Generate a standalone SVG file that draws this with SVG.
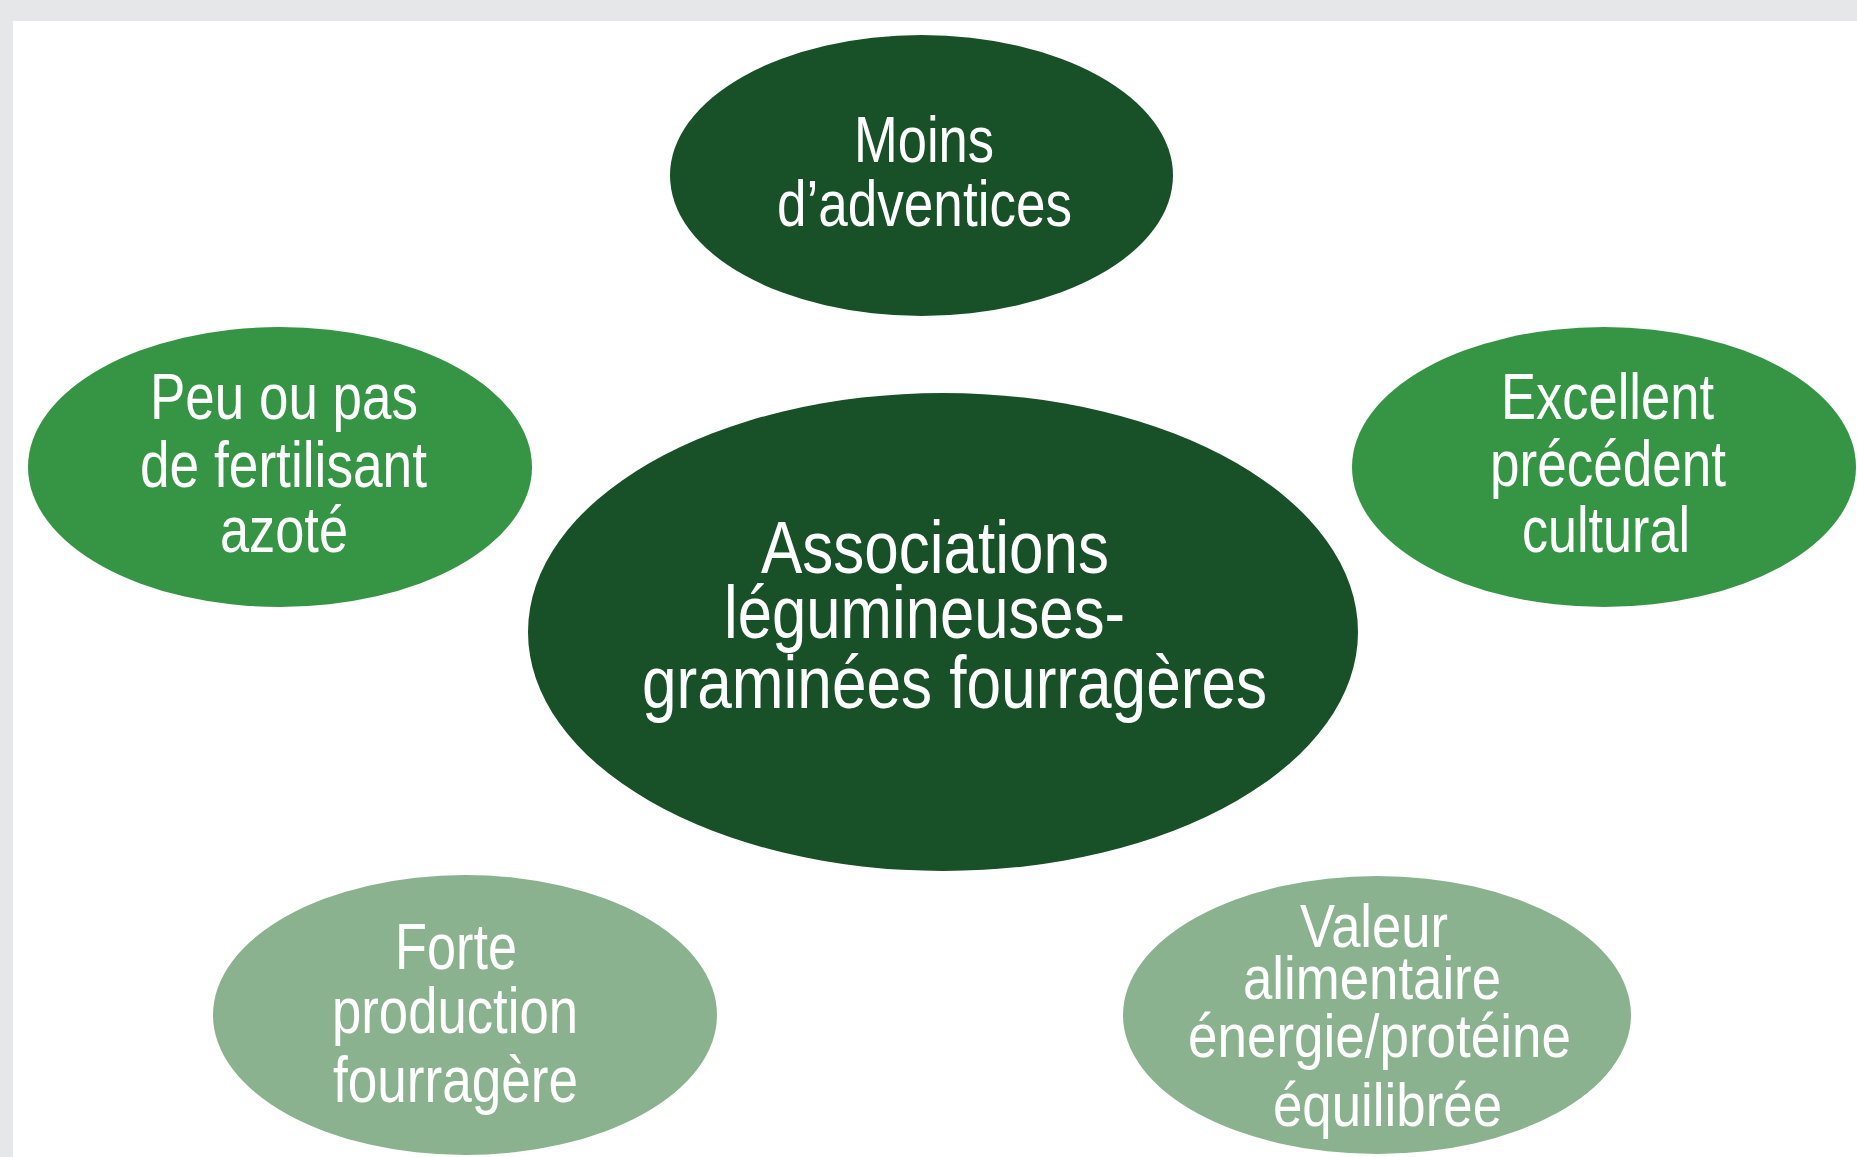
<svg xmlns="http://www.w3.org/2000/svg" width="1857" height="1157" viewBox="0 0 1857 1157">
<style>
.bg{fill:#e6e7e9}
.panel{fill:#ffffff}
.dark{fill:#185028}
.mid{fill:#369445}
.light{fill:#8ab28e}
text{font-family:"Liberation Sans",Arial,sans-serif;fill:#ffffff;font-size:65px}
.big{font-size:74px}
.sm{font-size:62px}
</style>
<rect class="bg" x="0" y="0" width="1857" height="1157"/>
<rect class="panel" x="13" y="21" width="1844" height="1136"/>
<g id="connectors"/>
<g id="node-moins">
<ellipse class="dark" cx="921.5" cy="175.5" rx="251.5" ry="140.5"/>
<text x="854" y="162" textLength="140" lengthAdjust="spacingAndGlyphs">Moins</text>
<text x="777" y="226" textLength="295" lengthAdjust="spacingAndGlyphs">d’adventices</text>
</g>
<g id="node-peu">
<ellipse class="mid" cx="280" cy="467" rx="252" ry="140"/>
<text x="150" y="419" textLength="268" lengthAdjust="spacingAndGlyphs">Peu ou pas</text>
<text x="140" y="487" textLength="287" lengthAdjust="spacingAndGlyphs">de fertilisant</text>
<text x="220" y="552" textLength="128" lengthAdjust="spacingAndGlyphs">azoté</text>
</g>
<g id="node-excellent">
<ellipse class="mid" cx="1604" cy="467" rx="252" ry="140"/>
<text x="1501" y="419" textLength="213" lengthAdjust="spacingAndGlyphs">Excellent</text>
<text x="1490" y="486" textLength="236" lengthAdjust="spacingAndGlyphs">précédent</text>
<text x="1522" y="552" textLength="168" lengthAdjust="spacingAndGlyphs">cultural</text>
</g>
<g id="node-center">
<ellipse class="dark" cx="943" cy="632" rx="415" ry="239"/>
<text class="big" x="761" y="573" textLength="348" lengthAdjust="spacingAndGlyphs">Associations</text>
<text class="big" x="724" y="638" textLength="401" lengthAdjust="spacingAndGlyphs">légumineuses-</text>
<text class="big" x="642" y="708" textLength="625" lengthAdjust="spacingAndGlyphs">graminées fourragères</text>
</g>
<g id="node-forte">
<ellipse class="light" cx="465" cy="1015" rx="252" ry="140"/>
<text x="395" y="969" textLength="122" lengthAdjust="spacingAndGlyphs">Forte</text>
<text x="332" y="1033" textLength="246" lengthAdjust="spacingAndGlyphs">production</text>
<text x="333" y="1102" textLength="245" lengthAdjust="spacingAndGlyphs">fourragère</text>
</g>
<g id="node-valeur">
<ellipse class="light" cx="1377" cy="1015" rx="254" ry="139"/>
<text class="sm" x="1300" y="947" textLength="148" lengthAdjust="spacingAndGlyphs">Valeur</text>
<text class="sm" x="1243" y="999" textLength="258" lengthAdjust="spacingAndGlyphs">alimentaire</text>
<text class="sm" x="1188" y="1057" textLength="383" lengthAdjust="spacingAndGlyphs">énergie/protéine</text>
<text class="sm" x="1273" y="1126" textLength="229" lengthAdjust="spacingAndGlyphs">équilibrée</text>
</g>
</svg>
